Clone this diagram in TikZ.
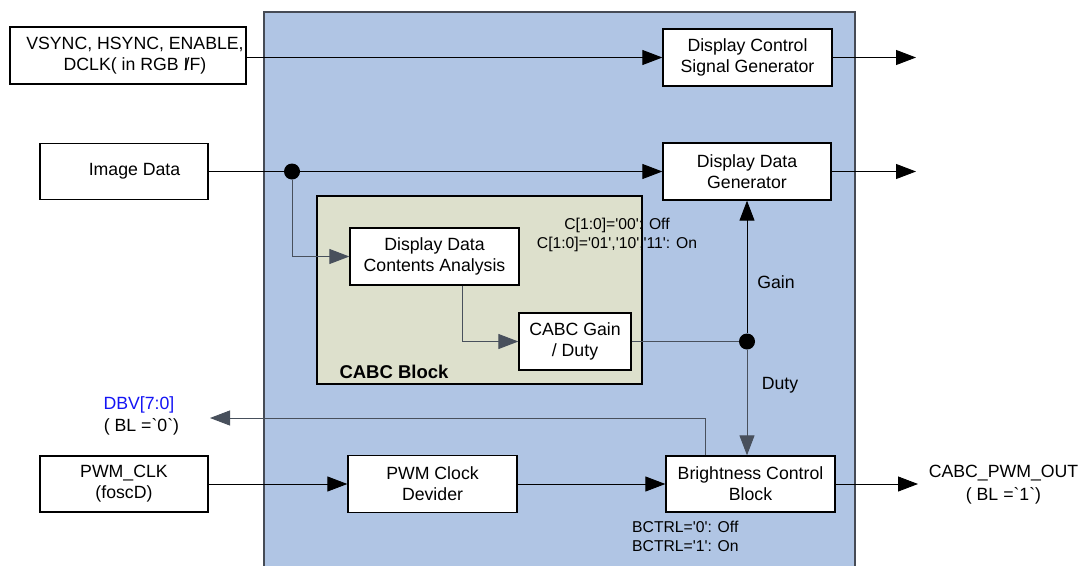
\documentclass[tikz,border=0pt]{standalone}
\usepackage{fontspec}
\setmainfont{Liberation Sans}
\usetikzlibrary{arrows.meta,calc}
\definecolor{bluebg}{RGB}{176,197,228}
\definecolor{bluebd}{RGB}{70,75,85}
\definecolor{cabcbg}{RGB}{221,224,204}
\definecolor{linegray}{RGB}{72,80,92}
\definecolor{dbvblue}{RGB}{20,20,245}
\begin{document}
\begin{tikzpicture}[x=1pt,y=-1pt,
  box/.style={draw=black, line width=1.3pt, fill=white, inner sep=0pt, align=center,
    font=\fontsize{17.7}{21}\selectfont},
  txt/.style={inner sep=0pt, align=center, font=\fontsize{17.7}{21}\selectfont},
  small/.style={inner sep=0pt, font=\fontsize{15.7}{19.5}\selectfont},
  arr/.style={line width=0.9pt, -{Triangle[length=20pt,width=15pt]}},
  ln/.style={line width=0.9pt},
  dotst/.style={circle, fill=black, inner sep=0pt, minimum size=16pt}]
\useasboundingbox (0,0) rectangle (1083,565);
\fill[white] (0,0) rectangle (1083,565);
% main blue block
\fill[bluebg] (264,12) rectangle (855,570);
\draw[bluebd, line width=1.2pt] (264,570) -- (264,12) -- (855,12) -- (855,570);
% CABC block
\node[draw=black, line width=2.6pt, fill=cabcbg, minimum width=325pt, minimum height=188pt, inner sep=0pt] (cabc) at (479.5,290) {};
\node[inner sep=0pt, font=\fontsize{18.5}{22}\selectfont\bfseries] (cabct) at (394,372) {CABC Block};
% boxes
\node[box, minimum width=236pt, minimum height=57pt] (vs) at (128,55.5) {};
\node[txt] (vst) at (135,56) {VSYNC,\ HSYNC,\ ENABLE,\\DCLK( in RGB I\kern-.22em/F)};
\node[box, minimum width=168pt, minimum height=56pt] (img) at (124,171.5) {};
\node[txt] (imgt) at (134.5,171.5) {Image Data};
\node[box, minimum width=169pt, minimum height=57pt] (dcsg) at (747.5,57.5) {Display Control\\Signal Generator};
\node[box, minimum width=168pt, minimum height=57pt] (ddg) at (747,171.5) {Display Data\\Generator};
\node[box, minimum width=169pt, minimum height=57pt] (ddca) at (434.5,256.5) {Display Data\\Contents Analysis};
\node[box, minimum width=112pt, minimum height=57pt] (cgd) at (575,341.5) {CABC Gain\\/ Duty};
\node[box, minimum width=168pt, minimum height=56pt] (pwmclk) at (124,484) {PWM\_CLK\\(foscD)};
\node[box, minimum width=169pt, minimum height=57pt] (pcd) at (432.5,484) {PWM Clock\\Devider};
\node[box, minimum width=169pt, minimum height=56pt] (bcb) at (750.5,484) {Brightness Control\\Block};
% junctions
\node[dotst] (j1) at (292,171.5) {};
\node[dotst] (j2) at (747,341.5) {};
% labels
\node[small, align=center] (cmode) at (617,235) {C[1:0]=\textquotesingle 00\textquotesingle: Off\\C[1:0]=\textquotesingle 01\textquotesingle,\textquotesingle 10\textquotesingle,\textquotesingle 11\textquotesingle: On};
\node[txt] (gain) at (776,282) {Gain};
\node[txt] (duty) at (780,385) {Duty};
\node[small, align=left, anchor=west] (bctrl) at (632,536.5) {BCTRL=\textquotesingle 0\textquotesingle: Off\\BCTRL=\textquotesingle 1\textquotesingle: On};
\node[txt, font=\fontsize{17.7}{22}\selectfont] (dbv) at (139,416) {\textcolor{dbvblue}{DBV[7:0]}\\\ ( BL =\textasciigrave 0\textasciigrave)};
\node[txt, font=\fontsize{17.7}{23}\selectfont] (pwmout) at (1003.5,485) {CABC\_PWM\_OUT\\( BL =\textasciigrave 1\textasciigrave)};
% outputs
\coordinate (o1) at (916,57.5);
\coordinate (o2) at (916,171.5);
\coordinate (o3) at (918,484);
\coordinate (dbvend) at (210,418);
% connectors
\draw[arr] (vs.east |- dcsg.west) -- (dcsg.west);
\draw[arr] (dcsg.east) -- (o1);
\draw[ln] (img.east) -- (j1);
\draw[arr] (j1) -- (ddg.west);
\draw[arr] (ddg.east) -- (o2);
\draw[arr, draw=linegray] (j1) |- (ddca.west);
\draw[arr, draw=linegray] ($(ddca.south west)+(113,0)$) |- (cgd.west);
\draw[ln, draw=linegray] (cgd.east) -- (j2);
\draw[arr] (j2) -- (j2 |- ddg.south);
\draw[arr, draw=linegray] (j2) -- (j2 |- bcb.north);
\draw[arr, draw=linegray] ($(bcb.north west)+(40,0)$) |- (dbvend);
\draw[arr] (pwmclk) -- (pcd);
\draw[arr] (pcd) -- (bcb);
\draw[arr] (bcb.east) -- (o3);
\end{tikzpicture}
\end{document}
